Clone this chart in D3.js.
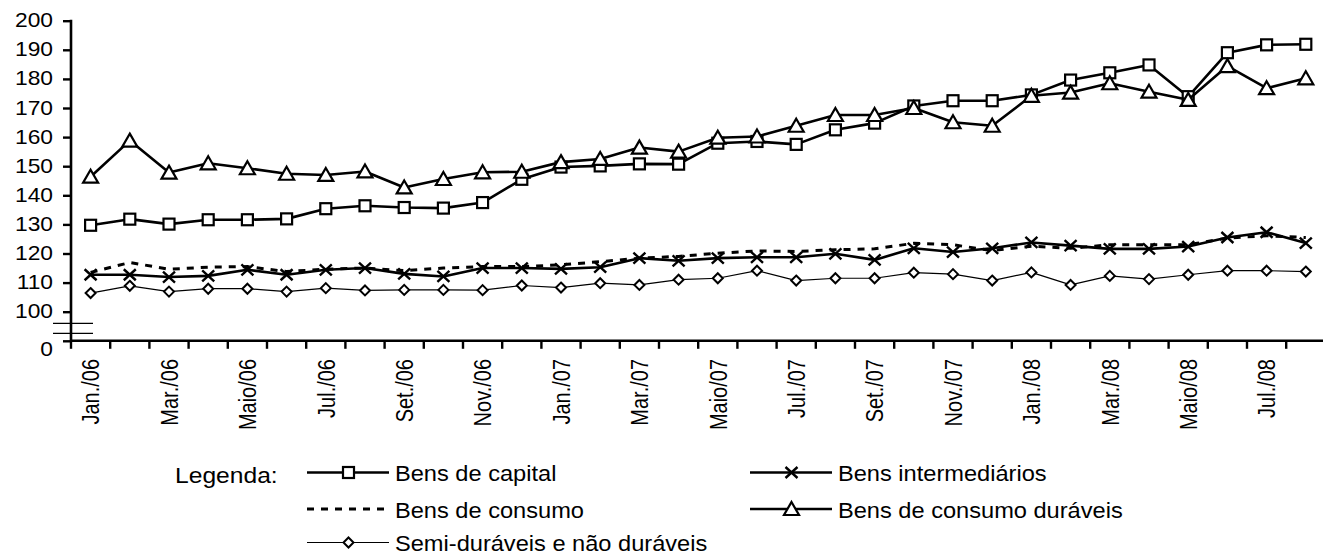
<!DOCTYPE html>
<html><head><meta charset="utf-8">
<script src="https://cdn.jsdelivr.net/npm/d3@7"></script>
<style>html,body{margin:0;padding:0;background:#fff;}svg{display:block;font-family:"Liberation Sans",Arial,sans-serif;}</style>
</head><body>
<svg id="c" width="1323" height="555"></svg>
<script>
const months = ["Jan./06","Fev./06","Mar./06","Abr./06","Maio/06","Jun./06","Jul./06","Ago./06","Set./06","Out./06","Nov./06","Dez./06",
"Jan./07","Fev./07","Mar./07","Abr./07","Maio/07","Jun./07","Jul./07","Ago./07","Set./07","Out./07","Nov./07","Dez./07",
"Jan./08","Fev./08","Mar./08","Abr./08","Maio/08","Jun./08","Jul./08","Ago./08"];
const labeledMonths = ["Jan./06","Mar./06","Maio/06","Jul./06","Set./06","Nov./06","Jan./07","Mar./07","Maio/07","Jul./07","Set./07","Nov./07","Jan./08","Mar./08","Maio/08","Jul./08"];
const yTicks = [90,100,110,120,130,140,150,160,170,180,190,200];
const yTickLabels = ["0","100","110","120","130","140","150","160","170","180","190","200"];

const bensCapital = [129.7,131.8,130.1,131.6,131.6,131.9,135.4,136.4,135.8,135.6,137.5,145.5,
149.7,150.1,150.8,150.7,157.9,158.5,157.5,162.5,164.8,170.7,172.5,172.5,
174.5,179.6,182.1,184.8,173.9,189.0,191.7,191.9];
const bensIntermediarios = [112.7,112.7,111.9,112.3,114.4,112.7,114.4,115.0,113.0,112.1,115.0,115.0,
114.7,115.3,118.4,117.5,118.4,118.7,118.7,119.9,117.8,121.8,120.5,121.8,
123.8,122.7,121.6,121.6,122.4,125.5,127.3,123.6];
const bensConsumo = [113.5,116.9,114.6,115.3,115.5,113.8,114.6,115.0,114.1,115.0,115.5,115.5,
116.1,117.2,118.4,119.0,120.1,120.9,120.7,121.3,121.6,123.5,123.0,121.0,
122.5,121.8,123.0,123.0,123.0,125.3,126.1,125.5];
const bensDuraveis = [146.4,158.8,147.8,151.0,149.3,147.4,147.0,148.2,142.7,145.6,147.9,148.1,
151.4,152.5,156.4,155.0,159.8,160.2,163.9,167.6,167.6,170.0,165.1,163.9,
174.2,175.3,178.5,175.6,172.8,184.4,176.8,180.2];
const semiDuraveis = [106.4,108.9,106.9,107.9,107.9,106.9,108.1,107.3,107.5,107.5,107.4,109.0,
108.3,109.8,109.2,111.0,111.5,114.1,110.7,111.5,111.5,113.4,112.9,110.7,
113.5,109.2,112.3,111.2,112.7,114.1,114.1,113.8];

const seriesNames = ["Bens de capital","Bens intermediários","Bens de consumo","Bens de consumo duráveis","Semi-duráveis e não duráveis"];

const svg = d3.select("#c");
const x0 = 71, step = 39.2;
const x = d3.scaleBand().domain(months).range([x0, x0 + months.length*step]).padding(0);
const y = d3.scaleLinear().domain([90,200]).range([340.8,20.7]);
const cx = m => x(m) + x.bandwidth()/2;

// Y axis
const yAxis = d3.axisLeft(y).tickValues(yTicks).tickSize(8).tickFormat("");
const gy = svg.append("g").attr("transform",`translate(${x0},0)`).call(yAxis);
gy.select(".domain").attr("stroke","#000").attr("stroke-width",2.6).attr("d",`M0,${y(200)-1}V${y(90)}`);
gy.selectAll(".tick line").attr("stroke","#000").attr("stroke-width",2.4);
yTicks.forEach((v,i)=>{
  const ty = y(v) + (v===90 ? 9 : 0);
  svg.append("text").attr("transform",`translate(53,${ty}) scale(1.14,1)`)
    .attr("text-anchor","end").attr("dominant-baseline","central")
    .attr("font-size",20).attr("fill","#000").text(yTickLabels[i]);
});
// axis break marks
[323.3,333.3].forEach(by=>{
  svg.append("line").attr("x1",53).attr("x2",93).attr("y1",by).attr("y2",by).attr("stroke","#000").attr("stroke-width",1.2);
});

// X axis
const yBase = y(90);
svg.append("line").attr("x1",x0).attr("x2",1323).attr("y1",yBase).attr("y2",yBase).attr("stroke","#000").attr("stroke-width",2.6);
months.forEach(m=>{
  const tx = x(m);
  svg.append("line").attr("x1",tx).attr("x2",tx).attr("y1",yBase).attr("y2",yBase+8).attr("stroke","#000").attr("stroke-width",2.4);
});
labeledMonths.forEach(m=>{
  svg.append("text").attr("transform",`translate(${cx(m)+0.5},359) scale(1.22,1) rotate(-90)`)
    .attr("text-anchor","end").attr("dominant-baseline","central")
    .attr("font-size",20).attr("fill","#000").text(m);
});

const line = d3.line().x((d,i)=>cx(months[i])).y(d=>y(d));

function marker(g, type, px, py){
  if(type==="square"){
    g.append("rect").attr("x",px-5.5).attr("y",py-5.5).attr("width",11).attr("height",11)
      .attr("fill","#fff").attr("stroke","#000").attr("stroke-width",2.2);
  } else if(type==="tri"){
    g.append("path").attr("d",`M${px},${py-7}L${px+7.5},${py+6}L${px-7.5},${py+6}Z`)
      .attr("fill","#fff").attr("stroke","#000").attr("stroke-width",2.2).attr("stroke-linejoin","miter");
  } else if(type==="x"){
    g.append("path").attr("d",`M${px-6},${py-5.5}L${px+6},${py+5.5}M${px-6},${py+5.5}L${px+6},${py-5.5}`)
      .attr("stroke","#000").attr("stroke-width",2.4).attr("fill","none");
  } else if(type==="diamond"){
    g.append("path").attr("d",`M${px},${py-5}L${px+5},${py}L${px},${py+5}L${px-5},${py}Z`)
      .attr("fill","#fff").attr("stroke","#000").attr("stroke-width",2);
  }
}

const specs = [
  {data:bensCapital, w:2.6, dash:null, m:"square"},
  {data:bensIntermediarios, w:2.6, dash:null, m:"x"},
  {data:bensConsumo, w:3, dash:"7,7", m:null},
  {data:bensDuraveis, w:2.6, dash:null, m:"tri"},
  {data:semiDuraveis, w:1.2, dash:null, m:"diamond"}
];
const plot = svg.append("g");
specs.forEach(s=>{
  const g = plot.append("g");
  g.append("path").datum(s.data).attr("d",line).attr("fill","none").attr("stroke","#000")
    .attr("stroke-width",s.w).attr("stroke-dasharray",s.dash).attr("stroke-linejoin","round");
  if(s.m) s.data.forEach((v,i)=>marker(g,s.m,cx(months[i]),y(v)));
});

// Legend
svg.append("text").attr("transform","translate(175,475) scale(1.12,1)").attr("dominant-baseline","central")
  .attr("font-size",22).attr("fill","#000").text("Legenda:");
const legendItems = [
  {i:0, lx:307, rowY:472.5},
  {i:1, lx:750, rowY:472.5},
  {i:2, lx:307, rowY:509},
  {i:3, lx:750, rowY:509},
  {i:4, lx:307, rowY:542.5}
];
legendItems.forEach(li=>{
  const s = specs[li.i];
  const g = svg.append("g");
  g.append("line").attr("x1",li.lx).attr("x2",li.lx+82).attr("y1",li.rowY).attr("y2",li.rowY)
    .attr("stroke","#000").attr("stroke-width",s.w).attr("stroke-dasharray",s.dash);
  if(s.m) marker(g,s.m,li.lx+41.5,li.rowY);
  g.append("text").attr("transform",`translate(${li.lx+88},${li.rowY+1}) scale(1.05,1)`).attr("dominant-baseline","central")
    .attr("font-size",22.5).attr("fill","#000").text(seriesNames[li.i]);
});
</script>
</body></html>
